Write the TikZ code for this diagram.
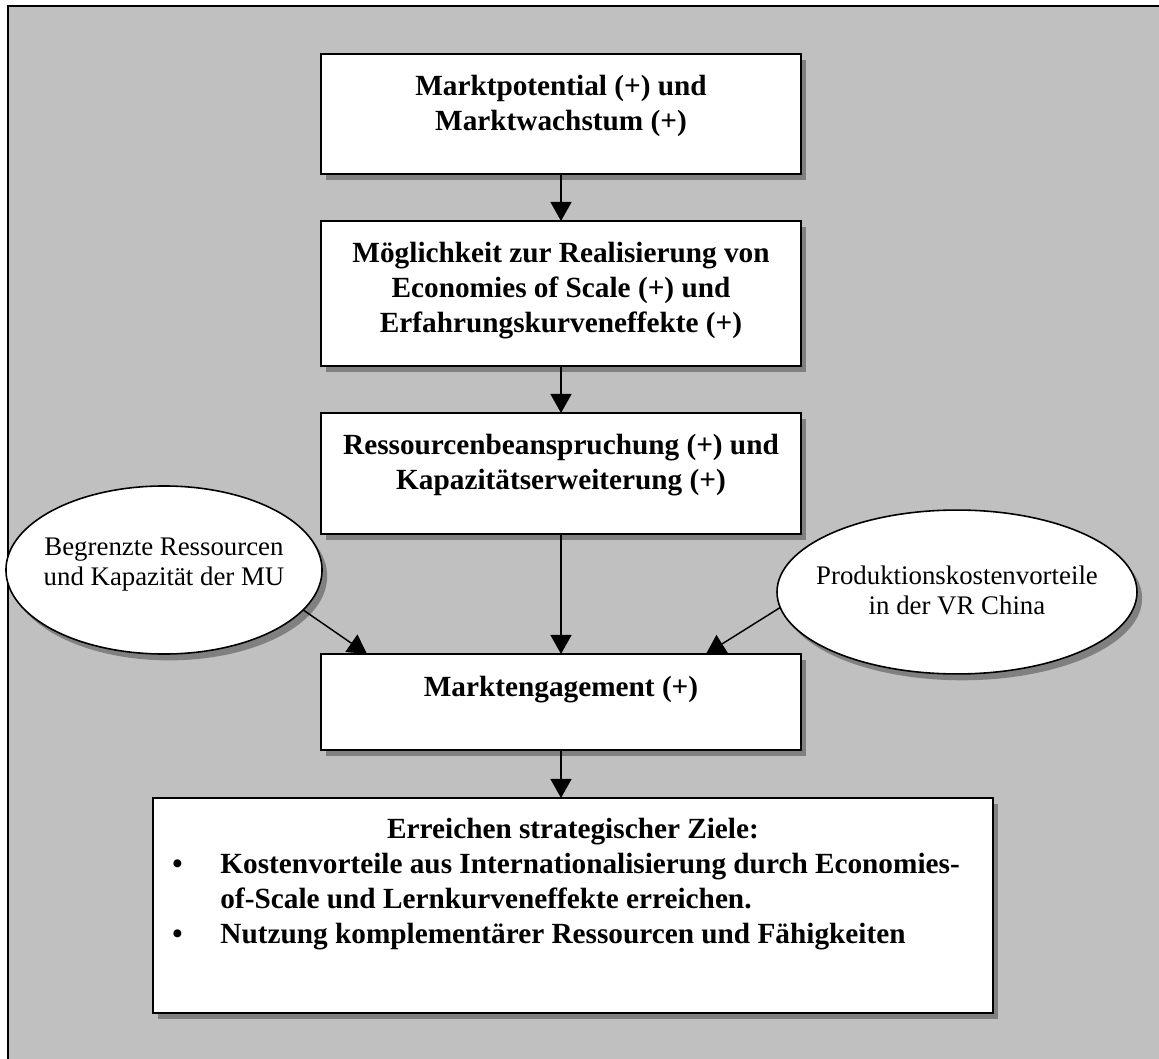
\documentclass[tikz,border=0pt]{standalone}
\usepackage{fontspec}
\setmainfont{Liberation Serif}
\usetikzlibrary{arrows.meta,shapes.geometric,shadows,fit}

\definecolor{panel}{HTML}{C0C0C0}
\definecolor{shade}{HTML}{808080}
\newdimen\pxu \pxu=0.41pt

\tikzset{
  card/.style={draw, fill=white, line width=0.75pt, inner sep=0pt, outer sep=0pt,
    drop shadow={shadow xshift=2.1pt, shadow yshift=-2.6pt, fill=shade, opacity=1}},
  oval/.style={ellipse, draw, fill=white, line width=0.65pt, inner sep=0pt, outer sep=0pt,
    drop shadow={shadow xshift=2.1pt, shadow yshift=-2.6pt, fill=shade, opacity=1}},
  heading/.style={anchor=base, inner sep=0pt, font=\fontsize{12}{14.35}\selectfont\bfseries},
  note/.style={anchor=base, inner sep=0pt, font=\fontsize{11}{12.7}\selectfont},
  flow/.style={-{Triangle[length=7.8pt,width=8.6pt]}, line width=0.6pt},
}

\begin{document}
\begin{tikzpicture}[x=0.41pt,y=-0.41pt]
  \useasboundingbox (0,0) rectangle (1159,1059);
  \fill[white] (0,0) rectangle (1159,1059);
  \clip (0,0) rectangle (1159,1059);

  % grey panel
  \draw[fill=panel, line width=0.75pt] (8,6) rectangle (1200,1100);

  % main chain of boxes
  \node[card, fit={(321,54) (801,174)}] (b1) {};
  \node[card, fit={(321,221) (801,366)}] (b2) {};
  \node[card, fit={(321,413) (801,534)}] (b3) {};
  \node[card, fit={(321,654) (801,750)}] (b4) {};
  \node[card, fit={(153,798) (993,1013)}] (b5) {};

  % side factors
  \node[oval, minimum width=129.6pt, minimum height=68.9pt] (lo) at (164,570) {};
  \node[oval, minimum width=147.6pt, minimum height=67.2pt] (ro) at (957,592) {};

  % box texts
  \node[heading] (t1) at (561,96) {\parbox[t]{470\pxu}{\centering
    Marktpotential (+) und\\ Marktwachstum (+)}};
  \node[heading] (t2) at (561,263) {\parbox[t]{470\pxu}{\centering
    Möglichkeit zur Realisierung von\\ Economies of Scale (+) und\\ Erfahrungskurveneffekte (+)}};
  \node[heading] (t3) at (561,455) {\parbox[t]{470\pxu}{\centering
    Ressourcenbeanspruchung (+) und\\ Kapazitätserweiterung (+)}};
  \node[heading] (t4) at (561,696) {Marktengagement (+)};
  \node[heading] (t5a) at (573,838) {Erreichen strategischer Ziele:};
  \node[heading, anchor=base west] (t5b) at (172,873) {\parbox[t]{815\pxu}{\raggedright
    \hangindent=48\pxu\hangafter=1
    \makebox[48\pxu][l]{\textbullet}Kostenvorteile aus Internationalisierung durch Economies-\break
    of-Scale und Lernkurveneffekte erreichen.\par
    \makebox[48\pxu][l]{\textbullet}Nutzung komplementärer Ressourcen und Fähigkeiten}};

  % ellipse texts
  \node[note] (tl) at (164,555) {\parbox[t]{300\pxu}{\centering
    Begrenzte Ressourcen\\ und Kapazität der MU}};
  \node[note] (tr) at (957,584) {\parbox[t]{340\pxu}{\centering
    Produktionskostenvorteile\\ in der VR China}};

  % connectors
  \coordinate (inL) at (367,654);
  \coordinate (inR) at (706,654);
  \draw[flow] (b1.south) -- (b2.north);
  \draw[flow] (b2.south) -- (b3.north);
  \draw[flow] (b3.south) -- (b4.north);
  \draw[flow] (b4.south) -- (b4.south |- b5.north);
  \draw[flow] (lo.-16) -- (inL);
  \draw[flow] (ro.185) -- (inR);
\end{tikzpicture}
\end{document}
